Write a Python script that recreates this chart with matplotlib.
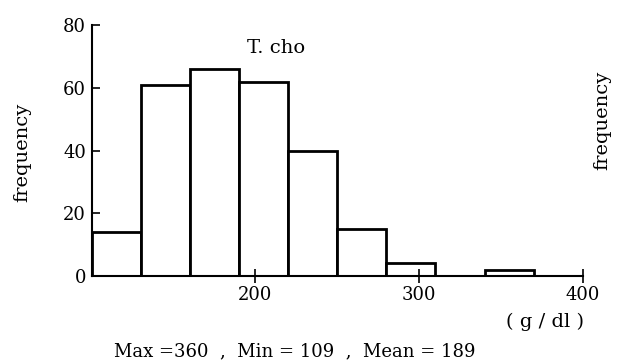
import matplotlib
matplotlib.use('Agg')
import matplotlib.pyplot as plt

# histogram of T. cho (g/dl), bin width 30
bin_left = [100, 130, 160, 190, 220, 250, 280, 340]
counts = [14, 61, 66, 62, 40, 15, 4, 2]
bin_width = 30
y_ticks = [0, 20, 40, 60, 80]
x_ticks = [200, 300, 400]

plt.rcParams['font.family'] = ['DejaVu Serif']

fig = plt.figure(figsize=(6.24, 3.64), dpi=100)
ax = fig.add_axes([0.147, 0.242, 0.787, 0.689])

ax.bar(bin_left, counts, width=bin_width, align='edge',
       facecolor='white', edgecolor='black', linewidth=2)

ax.set_xlim(100, 400)
ax.set_ylim(0, 80)
ax.set_xticks(x_ticks)
ax.set_yticks(y_ticks)
ax.spines['top'].set_visible(False)
ax.spines['right'].set_visible(False)
ax.spines['left'].set_linewidth(1.5)
ax.spines['bottom'].set_linewidth(1.5)
ax.tick_params(axis='y', direction='in', length=6, width=1.2, labelsize=13, pad=4)
ax.tick_params(axis='x', direction='inout', length=10, width=1.2, labelsize=13, pad=2)

fig.text(0.035, 0.582, 'frequency', rotation=90, ha='center', va='center', fontsize=14)
fig.text(0.965, 0.668, 'frequency', rotation=90, ha='center', va='center', fontsize=14)
fig.text(0.443, 0.868, 'T. cho', ha='center', va='center', fontsize=14)
fig.text(0.873, 0.115, '( g / dl )', ha='center', va='center', fontsize=14)
fig.text(0.473, 0.035, 'Max =360  ,  Min = 109  ,  Mean = 189',
         ha='center', va='center', fontsize=13)

fig.savefig('out.png', dpi=100)
